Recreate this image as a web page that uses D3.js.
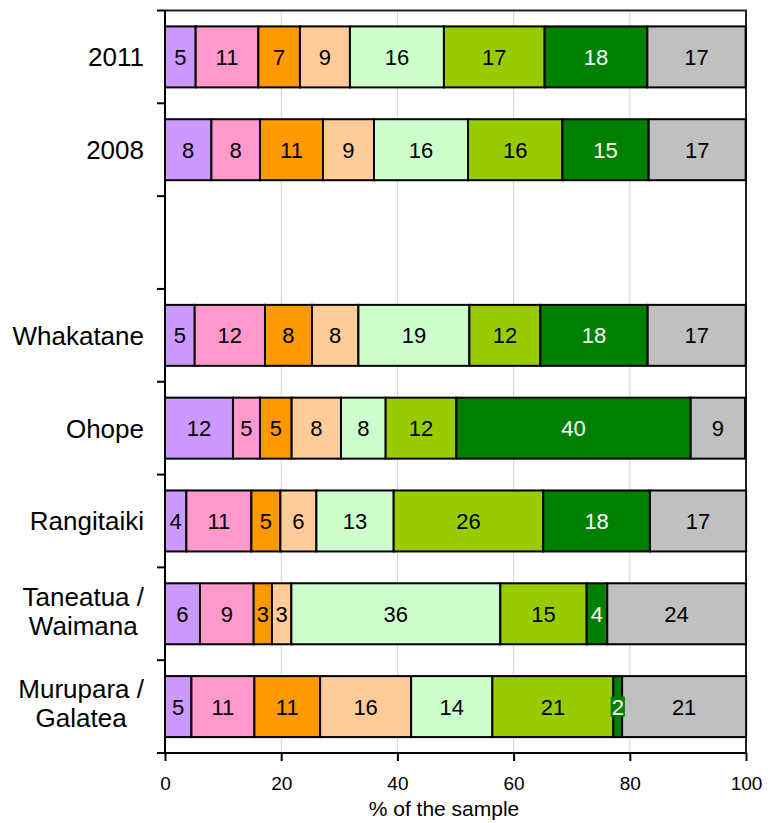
<!DOCTYPE html>
<html>
<head>
<meta charset="utf-8">
<script src="https://cdn.jsdelivr.net/npm/d3@7"></script>
<style>
  body { margin: 0; background: #fff; }
  text { font-family: "Liberation Sans", Arial, sans-serif; }
</style>
</head>
<body>
<svg width="768" height="823"></svg>
<script>
const categories = ["2011", "2008", "", "Whakatane", "Ohope", "Rangitaiki", "Taneatua /\nWaimana", "Murupara /\nGalatea"];
const colors = ["#cc99ff", "#ff99cc", "#ff9900", "#ffcc99", "#ccffcc", "#99cc00", "#008000", "#c0c0c0"];
const whiteText = [false, false, false, false, false, false, true, false];

// percent per segment, left to right
const v2011 = [5.28, 10.79, 7.16, 8.6, 16.18, 17.33, 17.68, 16.92];
const v2008 = [7.99, 8.36, 10.84, 8.78, 16.18, 16.25, 14.85, 16.7];
const whakatane = [5.11, 12.1, 8.09, 7.99, 19.1, 12.22, 18.47, 16.87];
const ohope = [11.7, 4.65, 5.45, 8.49, 7.69, 12.17, 40.34, 9.35];
const rangitaiki = [3.68, 11.19, 4.99, 6.2, 13.3, 25.75, 18.36, 16.55];
const taneatua = [6.02, 9.24, 3.15, 3.34, 35.97, 14.85, 3.55, 23.87];
const murupara = [4.55, 10.84, 11.31, 15.66, 13.99, 20.83, 1.5, 21.34];
const xTicks = [0, 20, 40, 60, 80, 100];

const rows = [
  { cat: categories[0], values: v2011 },
  { cat: categories[1], values: v2008 },
  { cat: categories[3], values: whakatane },
  { cat: categories[4], values: ohope },
  { cat: categories[5], values: rangitaiki },
  { cat: categories[6], values: taneatua },
  { cat: categories[7], values: murupara }
];

const svg = d3.select("svg");
const plotLeft = 165, plotRight = 746, plotTop = 10.5, plotBottom = 753;

const xScale = d3.scaleLinear().domain([0, 100]).range([plotLeft, plotRight]);
const yBand = d3.scaleBand().domain(categories).range([plotTop, plotBottom]).padding(0);
const yBar = d3.scaleBand().domain(categories).range([plotTop, plotBottom])
  .paddingInner(0.343).paddingOuter(0.1715);

// grid lines
svg.append("g")
  .selectAll("line")
  .data(xTicks.slice(1, -1))
  .enter()
  .append("line")
  .attr("x1", d => xScale(d)).attr("x2", d => xScale(d))
  .attr("y1", plotTop).attr("y2", plotBottom)
  .attr("stroke", "#d4d4d4").attr("stroke-width", 1);

// frame top + right
svg.append("path")
  .attr("d", `M${plotLeft},${plotTop}H${plotRight}V${plotBottom}`)
  .attr("fill", "none").attr("stroke", "#222").attr("stroke-width", 2);

// segments
const segs = [];
rows.forEach(r => {
  let acc = 0;
  r.values.forEach((v, i) => {
    segs.push({ cat: r.cat, i: i, x0: acc, x1: acc + v, v: v });
    acc += v;
  });
});

const bars = svg.append("g");
bars.selectAll("rect")
  .data(segs)
  .enter()
  .append("rect")
  .attr("x", d => xScale(d.x0))
  .attr("width", d => xScale(d.x1) - xScale(d.x0))
  .attr("y", d => yBar(d.cat))
  .attr("height", yBar.bandwidth())
  .attr("fill", d => colors[d.i])
  .attr("stroke", "#000")
  .attr("stroke-width", 2);

// labels
const labels = svg.append("g");
segs.forEach(d => {
  const cx = (xScale(d.x0) + xScale(d.x1)) / 2;
  const cy = yBar(d.cat) + yBar.bandwidth() / 2;
  const t = labels.append("text")
    .attr("x", cx)
    .attr("y", cy)
    .attr("dy", "0.36em")
    .attr("text-anchor", "middle")
    .style("font-size", "22px")
    .attr("fill", whiteText[d.i] ? "#fff" : "#000")
    .text(Math.round(d.v));
  if (whiteText[d.i]) {
    const w = t.node().getComputedTextLength();
    labels.insert("rect", () => t.node())
      .attr("x", cx - w / 2 - 1)
      .attr("y", cy - 10)
      .attr("width", w + 2)
      .attr("height", 20)
      .attr("fill", colors[d.i]);
  }
});

// left axis
svg.append("line")
  .attr("x1", plotLeft).attr("x2", plotLeft)
  .attr("y1", plotTop).attr("y2", plotBottom)
  .attr("stroke", "#000").attr("stroke-width", 2);
svg.append("g")
  .selectAll("line")
  .data(categories.map(c => yBand(c)).concat([plotBottom]))
  .enter()
  .append("line")
  .attr("x1", plotLeft - 8).attr("x2", plotLeft)
  .attr("y1", d => d).attr("y2", d => d)
  .attr("stroke", "#000").attr("stroke-width", 2);

// category labels (multi-line ones are drawn as separate texts)
const catG = svg.append("g");
categories.forEach(c => {
  if (!c) return;
  const lines = c.split("\n");
  const cy = yBand(c) + yBand.bandwidth() / 2 - (lines.length > 1 ? 3 : 0);
  const lh = 29;
  const ts = lines.map((ln, k) => catG.append("text")
    .attr("y", cy + (k - (lines.length - 1) / 2) * lh)
    .attr("dy", "0.36em")
    .attr("text-anchor", "middle")
    .style("font-size", "26px")
    .text(ln));
  const w = d3.max(ts, t => t.node().getComputedTextLength());
  ts.forEach(t => t.attr("x", 144 - w / 2));
});

// bottom axis
const xAxisG = svg.append("g")
  .attr("transform", `translate(0,${plotBottom})`)
  .call(d3.axisBottom(xScale).tickValues(xTicks).tickSize(8).tickSizeOuter(0).tickPadding(16));
xAxisG.select(".domain").attr("stroke-width", 2).attr("d", `M${plotLeft - 8},0H${plotRight}`);
xAxisG.selectAll(".tick line").attr("stroke-width", 2);
xAxisG.selectAll("text")
  .style("font-size", "19px")
  .style("font-family", "'Liberation Sans', Arial, sans-serif")
  .attr("fill", "#000");

svg.append("text")
  .attr("x", 444)
  .attr("y", 816)
  .attr("text-anchor", "middle")
  .style("font-size", "21px")
  .text("% of the sample");
</script>
</body>
</html>
